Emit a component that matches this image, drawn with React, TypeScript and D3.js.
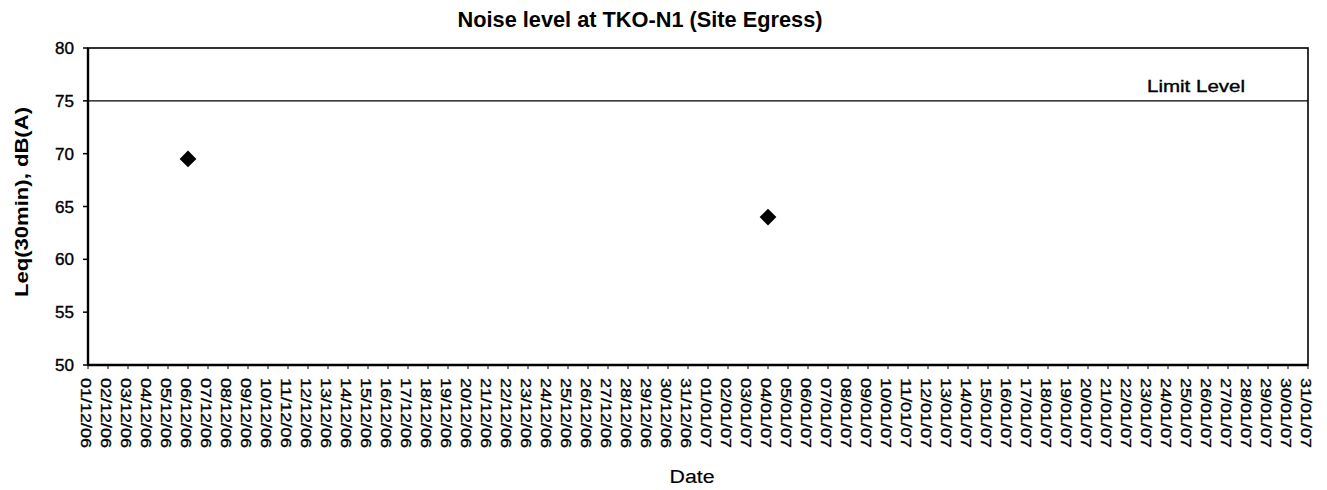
import React from "react";
import * as d3 from "d3";

const title = "Noise level at TKO-N1 (Site Egress)";
const yLabel = "Leq(30min), dB(A)";
const xLabel = "Date";
const limitLabel = "Limit Level";
const limitValue = 75;
const yTicks = [50, 55, 60, 65, 70, 75, 80];
const startDate = new Date(2006, 11, 1);
const endDate = new Date(2007, 0, 31);
const obsDates = [new Date(2006, 11, 6), new Date(2007, 0, 4)];
const obsValues = [69.5, 64.0];

const W = 1327;
const H = 490;
const L = 88, R = 1308, T = 48, B = 365;

export default function App() {
  const x = d3.scaleTime().domain([startDate, endDate]).range([L, R]);
  const y = d3.scaleLinear().domain([50, 80]).range([B, T]);
  const days = d3.timeDay.range(startDate, d3.timeDay.offset(endDate, 1));
  const fmt = d3.timeFormat("%d/%m/%y");
  const diamond = d3.symbol().type(d3.symbolSquare).size(140)();
  const font = "Liberation Sans, Arial, sans-serif";
  const heavy = { stroke: "#000", strokeWidth: 0.35 };
  return (
    <svg width={W} height={H} style={{ position: "absolute", left: 0, top: 0, background: "#fff" }} fontFamily={font}>
      <rect x={0} y={0} width={W} height={H} fill="#fff" />
      <text x={640} y={27} textAnchor="middle" fontSize={21.5} fontWeight="bold" textLength={365} lengthAdjust="spacingAndGlyphs">{title}</text>
      <text transform={`translate(28,${202}) rotate(-90)`} textAnchor="middle" fontSize={18} fontWeight="bold" textLength={190} lengthAdjust="spacingAndGlyphs">{yLabel}</text>
      <text x={692} y={483} textAnchor="middle" fontSize={18} textLength={45} lengthAdjust="spacingAndGlyphs" stroke="#000" strokeWidth={0.15}>{xLabel}</text>
      {yTicks.map((t) => (
        <g key={t}>
          <line x1={L - 5} x2={L} y1={y(t)} y2={y(t)} stroke="#000" strokeWidth={1.5} />
          <text x={L - 14} y={y(t) + 6} textAnchor="end" fontSize={16} textLength={19} lengthAdjust="spacingAndGlyphs" {...heavy}>{t}</text>
        </g>
      ))}
      {days.map((d, i) => (
        <g key={i}>
          <line x1={x(d)} x2={x(d)} y1={B} y2={B + 4} stroke="#000" strokeWidth={1} />
          <text transform={`translate(${x(d) - 7},${B + 13}) rotate(90)`} textAnchor="start" fontSize={15} textLength={70} lengthAdjust="spacingAndGlyphs" {...heavy}>{fmt(d)}</text>
        </g>
      ))}
      <line x1={L} x2={R} y1={y(limitValue)} y2={y(limitValue)} stroke="#000" strokeWidth={1.3} />
      <text x={1147} y={y(limitValue) - 9} fontSize={16} textLength={98} lengthAdjust="spacingAndGlyphs" {...heavy}>{limitLabel}</text>
      <rect x={L} y={T} width={R - L} height={B - T} fill="none" stroke="#000" strokeWidth={1.6} />
      <line x1={L} x2={L} y1={T} y2={B} stroke="#000" strokeWidth={2.4} />
      <line x1={L} x2={R} y1={B} y2={B} stroke="#000" strokeWidth={2.4} />
      {obsDates.map((d, i) => (
        <path key={i} d={diamond} transform={`translate(${x(d)},${y(obsValues[i])}) rotate(45)`} fill="#000" />
      ))}
    </svg>
  );
}
